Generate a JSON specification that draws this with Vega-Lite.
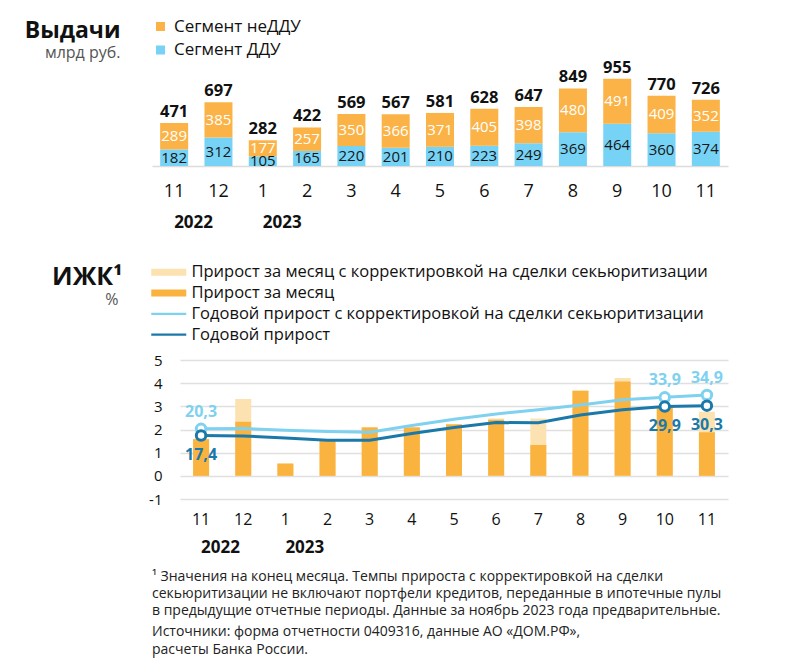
{
  "$schema": "https://vega.github.io/schema/vega-lite/v6.json",
  "background": "white",
  "padding": {"left": 5, "top": 18, "right": 5, "bottom": 5},
  "config": {
    "font": "Open Sans",
    "view": {"stroke": null},
    "locale": {"number": {"decimal": ",", "thousands": " ", "grouping": [3], "currency": ["", ""], "minus": "-"}}
  },
  "datasets": {
    "issues": [
      {"period": "2022-11", "seg": "Сегмент ДДУ", "v": 182}, {"period": "2022-11", "seg": "Сегмент неДДУ", "v": 289},
      {"period": "2022-12", "seg": "Сегмент ДДУ", "v": 312}, {"period": "2022-12", "seg": "Сегмент неДДУ", "v": 385},
      {"period": "2023-01", "seg": "Сегмент ДДУ", "v": 105}, {"period": "2023-01", "seg": "Сегмент неДДУ", "v": 177},
      {"period": "2023-02", "seg": "Сегмент ДДУ", "v": 165}, {"period": "2023-02", "seg": "Сегмент неДДУ", "v": 257},
      {"period": "2023-03", "seg": "Сегмент ДДУ", "v": 220}, {"period": "2023-03", "seg": "Сегмент неДДУ", "v": 350},
      {"period": "2023-04", "seg": "Сегмент ДДУ", "v": 201}, {"period": "2023-04", "seg": "Сегмент неДДУ", "v": 366},
      {"period": "2023-05", "seg": "Сегмент ДДУ", "v": 210}, {"period": "2023-05", "seg": "Сегмент неДДУ", "v": 371},
      {"period": "2023-06", "seg": "Сегмент ДДУ", "v": 223}, {"period": "2023-06", "seg": "Сегмент неДДУ", "v": 405},
      {"period": "2023-07", "seg": "Сегмент ДДУ", "v": 249}, {"period": "2023-07", "seg": "Сегмент неДДУ", "v": 398},
      {"period": "2023-08", "seg": "Сегмент ДДУ", "v": 369}, {"period": "2023-08", "seg": "Сегмент неДДУ", "v": 480},
      {"period": "2023-09", "seg": "Сегмент ДДУ", "v": 464}, {"period": "2023-09", "seg": "Сегмент неДДУ", "v": 491},
      {"period": "2023-10", "seg": "Сегмент ДДУ", "v": 360}, {"period": "2023-10", "seg": "Сегмент неДДУ", "v": 409},
      {"period": "2023-11", "seg": "Сегмент ДДУ", "v": 374}, {"period": "2023-11", "seg": "Сегмент неДДУ", "v": 352}
    ],
    "totals": [
      {"period": "2022-11", "total": 471}, {"period": "2022-12", "total": 697}, {"period": "2023-01", "total": 282},
      {"period": "2023-02", "total": 422}, {"period": "2023-03", "total": 569}, {"period": "2023-04", "total": 567},
      {"period": "2023-05", "total": 581}, {"period": "2023-06", "total": 628}, {"period": "2023-07", "total": 647},
      {"period": "2023-08", "total": 849}, {"period": "2023-09", "total": 955}, {"period": "2023-10", "total": 770},
      {"period": "2023-11", "total": 726}
    ],
    "growth": [
      {"period": "2022-11", "series": "Прирост за месяц с корректировкой на сделки секьюритизации", "v": 1.6},
      {"period": "2022-12", "series": "Прирост за месяц с корректировкой на сделки секьюритизации", "v": 3.32},
      {"period": "2023-01", "series": "Прирост за месяц с корректировкой на сделки секьюритизации", "v": 0.53},
      {"period": "2023-02", "series": "Прирост за месяц с корректировкой на сделки секьюритизации", "v": 1.54},
      {"period": "2023-03", "series": "Прирост за месяц с корректировкой на сделки секьюритизации", "v": 2.1},
      {"period": "2023-04", "series": "Прирост за месяц с корректировкой на сделки секьюритизации", "v": 2.1},
      {"period": "2023-05", "series": "Прирост за месяц с корректировкой на сделки секьюритизации", "v": 2.24},
      {"period": "2023-06", "series": "Прирост за месяц с корректировкой на сделки секьюритизации", "v": 2.48},
      {"period": "2023-07", "series": "Прирост за месяц с корректировкой на сделки секьюритизации", "v": 2.48},
      {"period": "2023-08", "series": "Прирост за месяц с корректировкой на сделки секьюритизации", "v": 3.68},
      {"period": "2023-09", "series": "Прирост за месяц с корректировкой на сделки секьюритизации", "v": 4.22},
      {"period": "2023-10", "series": "Прирост за месяц с корректировкой на сделки секьюритизации", "v": 3.0},
      {"period": "2023-11", "series": "Прирост за месяц с корректировкой на сделки секьюритизации", "v": 2.77},
      {"period": "2022-11", "series": "Прирост за месяц", "v": 1.58},
      {"period": "2022-12", "series": "Прирост за месяц", "v": 2.33},
      {"period": "2023-01", "series": "Прирост за месяц", "v": 0.53},
      {"period": "2023-02", "series": "Прирост за месяц", "v": 1.54},
      {"period": "2023-03", "series": "Прирост за месяц", "v": 2.09},
      {"period": "2023-04", "series": "Прирост за месяц", "v": 2.09},
      {"period": "2023-05", "series": "Прирост за месяц", "v": 2.22},
      {"period": "2023-06", "series": "Прирост за месяц", "v": 2.42},
      {"period": "2023-07", "series": "Прирост за месяц", "v": 1.33},
      {"period": "2023-08", "series": "Прирост за месяц", "v": 3.67},
      {"period": "2023-09", "series": "Прирост за месяц", "v": 4.07},
      {"period": "2023-10", "series": "Прирост за месяц", "v": 3.0},
      {"period": "2023-11", "series": "Прирост за месяц", "v": 1.88}
    ],
    "annual": [
      {"period": "2022-11", "series": "Годовой прирост с корректировкой на сделки секьюритизации", "v": 20.3},
      {"period": "2022-12", "series": "Годовой прирост с корректировкой на сделки секьюритизации", "v": 20.4},
      {"period": "2023-01", "series": "Годовой прирост с корректировкой на сделки секьюритизации", "v": 19.7},
      {"period": "2023-02", "series": "Годовой прирост с корректировкой на сделки секьюритизации", "v": 19.1},
      {"period": "2023-03", "series": "Годовой прирост с корректировкой на сделки секьюритизации", "v": 18.8},
      {"period": "2023-04", "series": "Годовой прирост с корректировкой на сделки секьюритизации", "v": 21.7},
      {"period": "2023-05", "series": "Годовой прирост с корректировкой на сделки секьюритизации", "v": 24.4},
      {"period": "2023-06", "series": "Годовой прирост с корректировкой на сделки секьюритизации", "v": 26.7},
      {"period": "2023-07", "series": "Годовой прирост с корректировкой на сделки секьюритизации", "v": 28.5},
      {"period": "2023-08", "series": "Годовой прирост с корректировкой на сделки секьюритизации", "v": 30.6},
      {"period": "2023-09", "series": "Годовой прирост с корректировкой на сделки секьюритизации", "v": 32.8},
      {"period": "2023-10", "series": "Годовой прирост с корректировкой на сделки секьюритизации", "v": 33.9},
      {"period": "2023-11", "series": "Годовой прирост с корректировкой на сделки секьюритизации", "v": 34.9},
      {"period": "2022-11", "series": "Годовой прирост", "v": 17.4},
      {"period": "2022-12", "series": "Годовой прирост", "v": 17.2},
      {"period": "2023-01", "series": "Годовой прирост", "v": 16.3},
      {"period": "2023-02", "series": "Годовой прирост", "v": 15.4},
      {"period": "2023-03", "series": "Годовой прирост", "v": 15.4},
      {"period": "2023-04", "series": "Годовой прирост", "v": 18.3},
      {"period": "2023-05", "series": "Годовой прирост", "v": 20.9},
      {"period": "2023-06", "series": "Годовой прирост", "v": 23.0},
      {"period": "2023-07", "series": "Годовой прирост", "v": 22.9},
      {"period": "2023-08", "series": "Годовой прирост", "v": 26.3},
      {"period": "2023-09", "series": "Годовой прирост", "v": 28.5},
      {"period": "2023-10", "series": "Годовой прирост", "v": 29.9},
      {"period": "2023-11", "series": "Годовой прирост", "v": 30.3}
    ]
  },
  "resolve": {"scale": {"color": "independent"}},
  "spacing": 34,
  "title": {
    "text": [
      "¹ Значения на конец месяца. Темпы прироста с корректировкой на сделки",
      "   секьюритизации не включают портфели кредитов, переданные в ипотечные пулы",
      "   в предыдущие отчетные периоды. Данные за ноябрь 2023 года предварительные."
    ],
    "subtitle": ["Источники: форма отчетности 0409316, данные АО «ДОМ.РФ»,", "расчеты Банка России."],
    "orient": "bottom",
    "anchor": "start",
    "align": "left",
    "dx": 147,
    "offset": 15,
    "fontSize": 14,
    "fontWeight": "normal",
    "lineHeight": 17,
    "color": "#222222",
    "subtitleFontSize": 14,
    "subtitleColor": "#222222",
    "subtitleLineHeight": 18,
    "subtitlePadding": 7
  },
  "vconcat": [
    {
      "width": 576,
      "height": 105,
      "layer": [
        {
          "data": {"name": "issues"},
          "mark": {"type": "bar", "width": 28},
          "encoding": {
            "x": {
              "field": "period", "type": "ordinal", "sort": null,
              "scale": {"paddingInner": 0.37},
              "axis": {"orient": "bottom", "title": "Выдачи", "titleX": -32, "titleY": -128.7, "titleAngle": 0, "titleAlign": "right", "titleBaseline": "alphabetic", "titleFontSize": 23, "titleFontWeight": "bold", "titleColor": "#111111", "labelExpr": "toNumber(slice(datum.label, 5))", "labelAngle": 0, "ticks": false, "domainColor": "#dcdcdc", "domainWidth": 1.5, "labelFontSize": 18, "labelColor": "#111111", "labelPadding": 16, "labelOverlap": false}
            },
            "y": {
              "field": "v", "type": "quantitative", "stack": "zero",
              "scale": {"domain": [0, 1150], "nice": false},
              "axis": {"title": null, "labels": false, "ticks": false, "domain": false, "grid": false, "minExtent": 147}
            },
            "color": {
              "field": "seg", "type": "nominal",
              "scale": {"domain": ["Сегмент неДДУ", "Сегмент ДДУ"], "range": ["#FBB347", "#77D3F5"]},
              "legend": {"title": null, "orient": "none", "legendX": 0, "legendY": -43, "symbolType": "square", "symbolSize": 81, "symbolStrokeWidth": 0, "labelFontSize": 17, "labelColor": "#111111", "labelOffset": 5, "rowPadding": 5.5, "labelLimit": 700}
            },
            "order": {"field": "seg", "sort": "ascending"}
          }
        },
        {
          "data": {"name": "issues"},
          "transform": [
            {"stack": "v", "groupby": ["period"], "sort": [{"field": "seg", "order": "ascending"}], "as": ["v0", "v1"]},
            {"calculate": "(datum.v0 + datum.v1) / 2", "as": "mid"}
          ],
          "mark": {"type": "text", "fontSize": 15, "baseline": "middle"},
          "encoding": {
            "x": {"field": "period", "type": "ordinal", "sort": null, "axis": null},
            "y": {"field": "mid", "type": "quantitative", "stack": null, "axis": {"title": null}},
            "text": {"field": "v", "type": "quantitative"},
            "color": {"condition": {"test": "datum.seg === 'Сегмент ДДУ'", "value": "#161616"}, "value": "#ffffff"}
          }
        },
        {
          "data": {"name": "totals"},
          "mark": {"type": "text", "fontSize": 16.5, "fontWeight": "bold", "baseline": "alphabetic", "dy": -6, "color": "#111111"},
          "encoding": {
            "x": {
              "field": "period", "type": "ordinal", "sort": null,
              "axis": {"orient": "bottom", "title": "млрд руб.", "titleX": -32, "titleY": -142.7, "titleAngle": 0, "titleAlign": "right", "titleBaseline": "alphabetic", "titleFontSize": 16, "titleFontWeight": "normal", "titleColor": "#555555", "labelExpr": "datum.label == '2022-11' ? '2022' : datum.label == '2023-01' ? '2023' : ''", "labelAngle": 0, "ticks": false, "domain": false, "grid": false, "offset": 34, "labelPadding": 14, "labelFontSize": 17, "labelFontWeight": "bold", "labelColor": "#111111", "labelAlign": "left", "labelDx": -6, "labelOverlap": false}
            },
            "y": {"field": "total", "type": "quantitative", "axis": {"title": null}},
            "text": {"field": "total", "type": "quantitative"}
          }
        }
      ],
      "resolve": {"axis": {"x": "independent"}}
    },
    {
      "width": 576,
      "height": 139,
      "layer": [
        {
          "data": {"name": "growth"},
          "mark": {"type": "bar", "width": 16},
          "encoding": {
            "x": {
              "field": "period", "type": "ordinal", "sort": null,
              "scale": {"paddingInner": 0.62, "range": [28, 576]},
              "axis": {"orient": "bottom", "title": "ИЖК¹", "titleX": -30, "titleY": -215, "titleAngle": 0, "titleAlign": "right", "titleBaseline": "alphabetic", "titleFontSize": 25, "titleFontWeight": "bold", "titleColor": "#111111", "labelExpr": "toNumber(slice(datum.label, 5))", "labelAngle": 0, "ticks": false, "domain": false, "labelFontSize": 16, "labelColor": "#111111", "labelPadding": 12, "labelOverlap": false}
            },
            "y": {
              "field": "v", "type": "quantitative", "stack": null,
              "scale": {"domain": [-1, 5], "nice": false, "zero": false},
              "axis": {"title": null, "offset": -28, "values": [-1, 0, 1, 2, 3, 4, 5], "grid": true, "gridColor": "#e0e0e0", "gridWidth": 1.5, "ticks": false, "domain": false, "labelFontSize": 15, "labelColor": "#111111", "labelPadding": 18}
            },
            "color": {
              "field": "series", "type": "nominal",
              "scale": {
                "domain": ["Прирост за месяц с корректировкой на сделки секьюритизации", "Прирост за месяц", "Годовой прирост с корректировкой на сделки секьюритизации", "Годовой прирост"],
                "range": ["#FDE2B1", "#FBB33F", "#7FD1F0", "#1B79A9"]
              },
              "legend": {
                "title": null, "orient": "none", "legendX": -2, "legendY": -96,
                "symbolSize": 196, "symbolStrokeWidth": 0, "labelFontSize": 16.5, "labelColor": "#111111", "labelOffset": 25, "rowPadding": 3.8, "labelLimit": 700,
                "encode": {
                  "symbols": {
                    "update": {
                      "shape": {"signal": "indexof(datum.value, 'Годовой') === 0 ? 'M-1,-0.15H4V0.15H-1Z' : 'M-1,-0.5H4V0.5H-1Z'"},
                      "fill": {"signal": "datum.value === 'Прирост за месяц' ? '#FBB33F' : datum.value === 'Годовой прирост' ? '#1B79A9' : indexof(datum.value, 'Годовой') === 0 ? '#7FD1F0' : '#FDE2B1'"},
                      "stroke": {"value": "transparent"},
                      "opacity": {"value": 1}
                    }
                  }
                }
              }
            }
          }
        },
        {
          "data": {"name": "annual"},
          "mark": {"type": "line", "strokeWidth": 3},
          "encoding": {
            "x": {
              "field": "period", "type": "ordinal", "sort": null,
              "axis": {"orient": "bottom", "title": "%", "titleX": -34, "titleY": -223, "titleAngle": 0, "titleAlign": "right", "titleBaseline": "alphabetic", "titleFontSize": 16, "titleFontWeight": "normal", "titleColor": "#555555", "labelExpr": "datum.label == '2022-11' ? '2022' : datum.label == '2023-01' ? '2023' : ''", "labelAngle": 0, "ticks": false, "domain": false, "grid": false, "offset": 28, "labelPadding": 12, "labelFontSize": 17, "labelFontWeight": "bold", "labelColor": "#111111", "labelAlign": "left", "labelDx": -7, "labelOverlap": false}
            },
            "y": {"field": "v", "type": "quantitative", "scale": {"domain": [-10, 50], "nice": false, "zero": false}, "axis": null},
            "color": {"field": "series", "type": "nominal"}
          }
        },
        {
          "data": {"name": "annual"},
          "transform": [{"filter": "datum.period === '2022-11' || datum.period === '2023-10' || datum.period === '2023-11'"}],
          "mark": {"type": "point", "shape": "circle", "filled": false, "fill": "white", "size": 90, "strokeWidth": 3, "opacity": 1},
          "encoding": {
            "x": {"field": "period", "type": "ordinal", "sort": null, "axis": null},
            "y": {"field": "v", "type": "quantitative", "scale": {"domain": [-10, 50], "nice": false, "zero": false}, "axis": null},
            "color": {"field": "series", "type": "nominal"}
          }
        },
        {
          "data": {"name": "annual"},
          "transform": [{"filter": "(datum.period === '2022-11' || datum.period === '2023-10' || datum.period === '2023-11') && datum.series !== 'Годовой прирост'"}],
          "mark": {"type": "text", "fontSize": 16, "fontWeight": "bold", "dy": -17, "baseline": "middle", "color": "#7FD1F0"},
          "encoding": {
            "x": {"field": "period", "type": "ordinal", "sort": null, "axis": null},
            "y": {"field": "v", "type": "quantitative", "scale": {"domain": [-10, 50], "nice": false, "zero": false}, "axis": null},
            "text": {"field": "v", "type": "quantitative", "format": ".1f"}
          }
        },
        {
          "data": {"name": "annual"},
          "transform": [{"filter": "(datum.period === '2022-11' || datum.period === '2023-10' || datum.period === '2023-11') && datum.series === 'Годовой прирост'"}],
          "mark": {"type": "text", "fontSize": 16, "fontWeight": "bold", "dy": 19, "baseline": "middle", "color": "#1B79A9"},
          "encoding": {
            "x": {"field": "period", "type": "ordinal", "sort": null, "axis": null},
            "y": {"field": "v", "type": "quantitative", "scale": {"domain": [-10, 50], "nice": false, "zero": false}, "axis": null},
            "text": {"field": "v", "type": "quantitative", "format": ".1f"}
          }
        }
      ],
      "resolve": {"scale": {"y": "independent"}, "axis": {"x": "independent"}}
    }
  ]
}
